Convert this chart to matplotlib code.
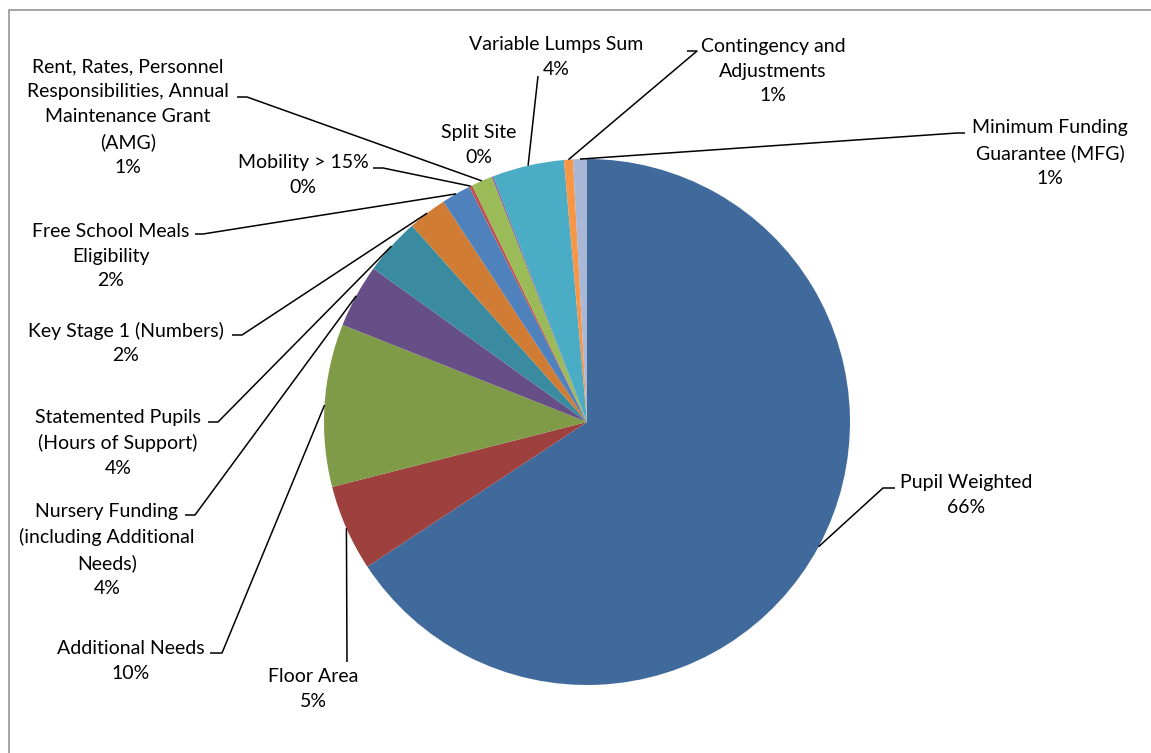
#!/usr/bin/env python3
"""Funding formula breakdown pie with Excel-style leader labels."""

import matplotlib
matplotlib.use("Agg")
import matplotlib.pyplot as plt
import numpy as np
from matplotlib.patches import Rectangle

W, H = 1151, 753

# data, clockwise from 12 o'clock
categories = [
    "Pupil Weighted",
    "Floor Area",
    "Additional Needs",
    "Nursery Funding\n(including Additional\nNeeds)",
    "Statemented Pupils\n(Hours of Support)",
    "Key Stage 1 (Numbers)",
    "Free School Meals\nEligibility",
    "Mobility > 15%",
    "Rent, Rates, Personnel\nResponsibilities, Annual\nMaintenance Grant\n(AMG)",
    "Split Site",
    "Variable Lumps Sum",
    "Contingency and\nAdjustments",
    "Minimum Funding\nGuarantee (MFG)",
]
shares = [65.8, 5.3, 10.0, 3.9, 3.5, 2.4, 1.8, 0.2, 1.3, 0.1, 4.4, 0.55, 0.85]
colors = [
    "#416A9C", "#9E413E", "#7F9B47", "#664F87", "#3A8BA0", "#D07C35",
    "#4F81BD", "#C0504D", "#9BBB59", "#8064A2", "#4BACC6", "#F79646",
    "#A9B8D7",
]

# label layout in image pixels: text centre, elbow, end of the short tick
# (None = no tick / no leader line)
text_pos = [
    (966, 495), (313, 689), (131, 661), (107, 550), (118, 443), (126, 343),
    (111, 256), (303, 175), (128, 117), (479, 145), (556, 57), (773, 71),
    (1050, 153),
]
elbows = [
    (883, 488), (347, 662), (222, 653), (195, 515), (218, 422), (242, 335),
    (203, 234), (383, 168), (247, 97), None, (538, 76), (697, 51),
    (957, 133),
]
ticks = [
    (895, 488), None, (210, 653), (185, 515), (208, 422), (232, 335),
    (195, 234), (373, 168), (237, 97), None, None, (687, 51),
    (965, 133),
]

CENTER = (587, 422)
RADIUS = 263


def fy(y):
    """image-pixel y -> data y."""
    return H - y


def pct(v):
    # Excel rounds half up
    return f"{int(np.floor(v + 0.5))}%"


fig = plt.figure(figsize=(W / 100, H / 100), dpi=100)
ax = fig.add_axes([0, 0, 1, 1])
ax.set_xlim(0, W)
ax.set_ylim(0, H)
ax.set_aspect("equal")
ax.axis("off")

# chart-area border (right and bottom fall outside the image)
ax.add_patch(Rectangle((9, -50), W + 100, fy(10) + 50, fill=False,
                       edgecolor="#8C8C8C", linewidth=1.1))

cx, cy = CENTER[0], fy(CENTER[1])
wedges, _ = ax.pie(shares, colors=colors, startangle=90, counterclock=False,
                   center=(cx, cy), radius=RADIUS, normalize=True,
                   wedgeprops=dict(linewidth=0))
ax.set_xlim(0, W)
ax.set_ylim(0, H)

font = dict(family=["Lato", "DejaVu Sans"], fontsize=14, color="#000000")

for w, name, val, tp, el, tk in zip(wedges, categories, shares,
                                    text_pos, elbows, ticks):
    mid = np.deg2rad((w.theta1 + w.theta2) / 2)
    px = cx + RADIUS * np.cos(mid)
    py = cy + RADIUS * np.sin(mid)
    if el is not None:
        xs = [px, el[0]]
        ys = [py, fy(el[1])]
        if tk is not None:
            xs.append(tk[0])
            ys.append(fy(tk[1]))
        ax.plot(xs, ys, color="black", linewidth=1.1,
                solid_capstyle="butt", zorder=3)
    ax.text(tp[0], fy(tp[1]), f"{name}\n{pct(val)}", ha="center",
            va="center", multialignment="center", linespacing=1.55, **font)

fig.savefig("out.png", dpi=100)
